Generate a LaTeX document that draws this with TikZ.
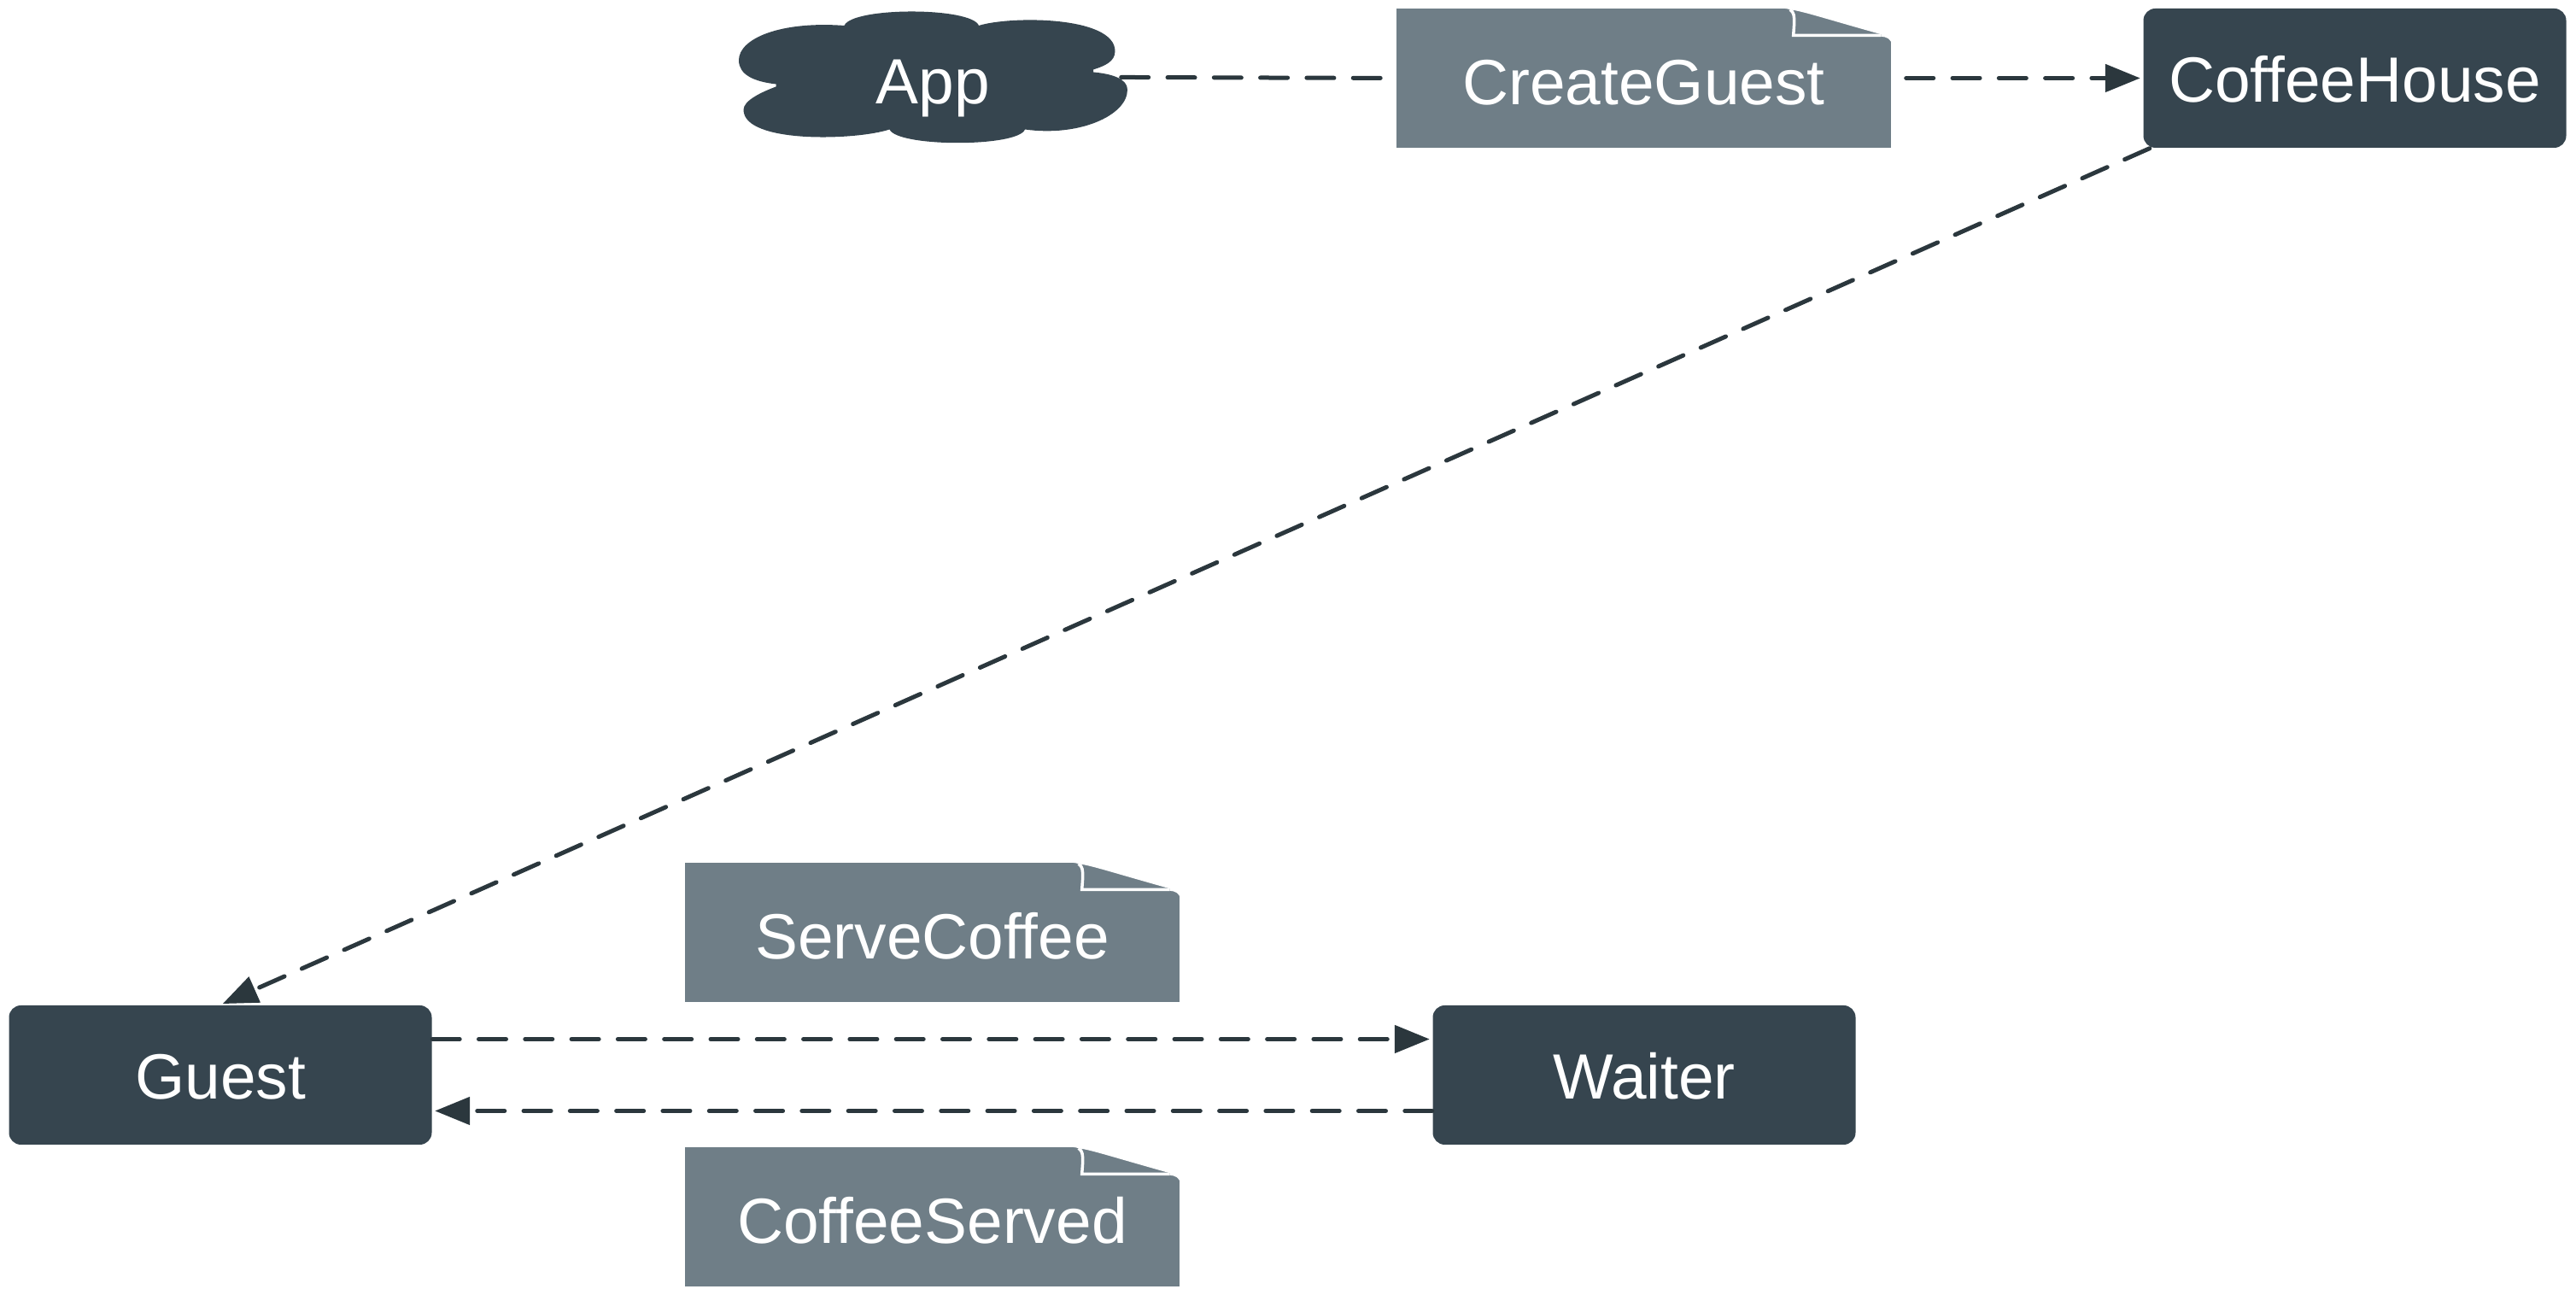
\documentclass[tikz,border=0pt]{standalone}
\usepackage{fontspec}
\setmainfont{Liberation Sans}
\usetikzlibrary{arrows.meta}

\definecolor{actorgray}{HTML}{36454F}
\definecolor{notegray}{HTML}{6F7E87}
\definecolor{linegray}{HTML}{2B373D}

\tikzset{
  label font/.style={font=\fontsize{21.3}{25}\selectfont, text=white, inner sep=0pt, text height=.62cm, text depth=0cm},
  actor/.style={label font, text height=.56cm, rectangle, rounded corners=.14cm, fill=actorgray, minimum width=4.95cm, minimum height=1.63cm},
  msgnote/.style={label font, rectangle, fill=notegray, minimum width=5.79cm, minimum height=1.63cm},
  cloudactor/.style={label font, rectangle, minimum width=4.55cm, minimum height=1.55cm},
  msgline/.style={draw=linegray, line width=.05cm, line cap=round, dash pattern=on .32cm off .223cm},
  msgarrow/.style={msgline, -{Triangle[length=.41cm, width=.32cm]}, shorten >=.03cm},
}

\begin{document}
\begin{tikzpicture}
  \useasboundingbox (0,0) rectangle (30.16,15.16);

  \fill[actorgray, shift={(10.925,14.255)}] (-1.04,.605) .. controls (-.95,.825) and (.45,.825) .. (.535,.605)
    .. controls (.9,.72) and (2.13,.72) .. (2.13,.305)
    .. controls (2.13,.18) and (2,.13) .. (1.875,.09) -- (1.875,.06)
    .. controls (2.1,.04) and (2.275,-.02) .. (2.275,-.145)
    .. controls (2.275,-.45) and (1.7,-.7) .. (1.075,-.61)
    .. controls (1,-.82) and (-.42,-.82) .. (-.51,-.61)
    .. controls (-.9,-.74) and (-2.22,-.78) .. (-2.22,-.38)
    .. controls (-2.22,-.27) and (-2,-.17) .. (-1.84,-.11) -- (-1.84,-.08)
    .. controls (-2.1,-.05) and (-2.275,.03) .. (-2.275,.2)
    .. controls (-2.275,.45) and (-1.8,.66) .. (-1.04,.605) -- cycle;

  \node[cloudactor] (App) at (10.925,14.255) {App};
  \node[msgnote] (CreateGuest) at (19.245,14.245) {CreateGuest};
  \node[actor] (CoffeeHouse) at (27.57,14.245) {CoffeeHouse};
  \node[actor] (Guest) at (2.58,2.575) {Guest};
  \node[actor] (Waiter) at (19.25,2.575) {Waiter};
  \node[msgnote] (ServeCoffee) at (10.915,4.245) {ServeCoffee};
  \node[msgnote] (CoffeeServed) at (10.915,.915) {CoffeeServed};

  \foreach \msg in {CreateGuest,ServeCoffee,CoffeeServed} {
    \begin{scope}[shift={(\msg.north east)}]
      \fill[white] (-1.47,.02) -- (-1.47,0) .. controls (-1.33,0) and (-1.24,0) .. (-1.19,-.02)
        .. controls (-1.05,-.035) and (-.8,-.12) .. (-.12,-.31) -- (-.12,-.335)
        .. controls (-.06,-.34) and (0,-.36) .. (0,-.44) -- (.02,-.44) -- (.02,.02) -- cycle;
      \draw[white, line width=.035cm] (-1.19,-.02) .. controls (-1.14,-.05) and (-1.14,-.1) .. (-1.14,-.18)
        -- (-1.15,-.32) -- (-.12,-.32);
    \end{scope}
  }

  \draw[msgline, shorten <=-.08cm, shorten >=.16cm] (App.east) -- (CreateGuest.west);
  \draw[msgarrow, shorten <=.17cm] (CreateGuest.east) -- (CoffeeHouse.west);
  \draw[msgarrow] ([xshift=.08cm]CoffeeHouse.south west) -- (Guest.north);
  \draw[msgarrow] ([yshift=.42cm]Guest.east) -- ([yshift=.42cm]Waiter.west);
  \draw[msgarrow] ([yshift=-.42cm]Waiter.west) -- ([yshift=-.42cm]Guest.east);
\end{tikzpicture}
\end{document}
